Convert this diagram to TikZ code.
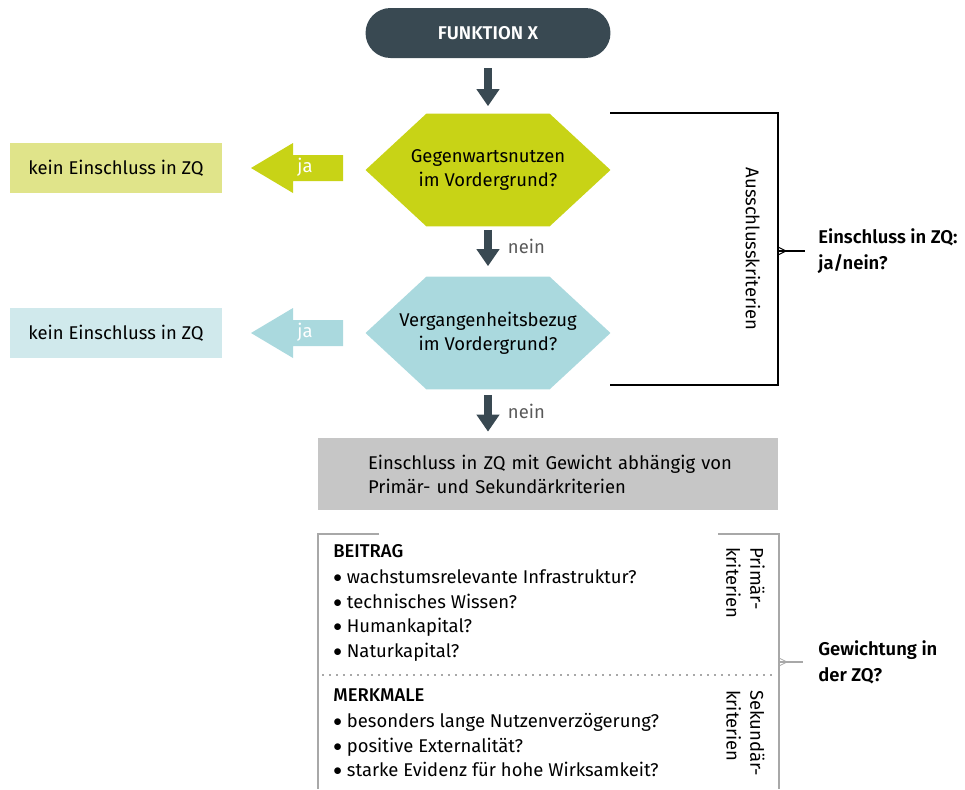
\documentclass[tikz,border=0pt]{standalone}
\usepackage{fontspec}
\setmainfont{Fira Sans}[BoldFont={Fira Sans SemiBold}]
\newfontfamily\medium{Fira Sans Medium}
\usepackage{tikz}
\usetikzlibrary{calc, arrows.meta}

\definecolor{slate}{HTML}{394952}
\definecolor{lime}{HTML}{C8D316}
\definecolor{limelight}{HTML}{E0E48A}
\definecolor{teal}{HTML}{AAD9DE}
\definecolor{teallight}{HTML}{D0E9EC}
\definecolor{boxgray}{HTML}{C6C6C6}
\definecolor{framegray}{HTML}{A8A8A8}

\newcommand{\pkt}{\raisebox{0.1ex}{\scalebox{0.9}{$\bullet$}}\ }

\begin{document}
\begin{tikzpicture}[x=0.02cm, y=-0.02cm, font=\fontsize{10.5}{13.6}\selectfont]

    \tikzstyle{hexa}=[minimum width=49mm, minimum height=22.6mm, inner sep=0pt, align=center,
        path picture={\fill[#1] (path picture bounding box.west)
            -- ([xshift=12.2mm]path picture bounding box.north west)
            -- ([xshift=-12.2mm]path picture bounding box.north east)
            -- (path picture bounding box.east)
            -- ([xshift=-12.2mm]path picture bounding box.south east)
            -- ([xshift=12.2mm]path picture bounding box.south west) -- cycle;}];
    \tikzstyle{nobox}=[minimum width=42.4mm, minimum height=10mm, inner sep=0pt];
    \tikzstyle{downarrow}=[line width=1.6mm, draw=slate, -{Triangle[width=4.4mm, length=3.4mm]}];
    \tikzstyle{nein}=[text=black!65, inner sep=0pt, xshift=3.2mm];
    \tikzstyle{side}=[rotate=-90, align=left, inner sep=0pt, anchor=north west];
    \tikzstyle{liste}=[anchor=north west, align=left, inner sep=0pt, font=\fontsize{10.5}{14}\selectfont];

    \useasboundingbox (0,0) rectangle (965,789);

    \node[fill=slate, rounded corners=5mm, minimum width=49mm, minimum height=10mm, text=white, font=\fontsize{10.5}{13.6}\selectfont\bfseries] (fx) at (488,33) {FUNKTION X};

    \node[hexa=lime] (h1) at (488,170) {Gegenwartsnutzen\\im Vordergrund?};
    \node[hexa=teal] (h2) at (488,333) {Vergangenheitsbezug\\im Vordergrund?};

    \node[nobox, fill=limelight] (k1) at (116,168) {kein Einschluss in ZQ};
    \node[nobox, fill=teallight] (k2) at (116,333) {kein Einschluss in ZQ};

    \node[fill=boxgray, minimum width=92mm, minimum height=14.4mm, text width=72mm, inner xsep=10mm, align=left] (ez) at (548,474) {\mbox{Einschluss in ZQ mit Gewicht abhängig von}\\Primär- und Sekundärkriterien};

    % ja-pfeile
    \fill[lime] (343,155) -- (293,155) -- (293,143) -- (251,168) -- (293,193) -- (293,181) -- (343,181) -- cycle;
    \node[text=white] (ja1) at (305,167) {ja};
    \fill[teal] (343,320) -- (293,320) -- (293,308) -- (251,333) -- (293,358) -- (293,346) -- (343,346) -- cycle;
    \node[text=white] (ja2) at (305,332) {ja};

    \draw (fx) edge[downarrow, shorten <=2mm, shorten >=1.4mm] (h1);
    \draw (h1) edge[downarrow, shorten <=0.6mm, shorten >=2mm] node[right, nein, pos=0.4] {nein} (h2);
    \draw (h2) edge[downarrow, shorten <=1mm, shorten >=1.2mm] node[right, nein, pos=0.45] {nein} (h2.south |- ez.north);

    % klammer ausschluss
    \coordinate (a1) at (610,113);
    \coordinate (a2) at (610,385);
    \coordinate (ap) at (778,251);
    \coordinate (aq) at (805,251);
    \draw[line width=0.5mm] (a1) -| (ap) |- (a2);
    \draw[line width=0.5mm] (ap) -- (aq);
    \draw[line width=0.2mm] (778,247) -- (786,251) -- (778,255);
    \node[rotate=-90, inner sep=0pt] (ak) at (753,249) {Ausschlusskriterien};
    \node[anchor=west, align=left, inner sep=0pt, font=\fontsize{10.5}{14.7}\selectfont\bfseries] (ja) at (818,251) {Einschluss in ZQ:\\ja/nein?};

    % rahmen kriterien
    \coordinate (r1) at (318,789);
    \coordinate (r2) at (779,789);
    \coordinate (rp) at (779,662);
    \coordinate (rq) at (803,662);
    \draw[framegray, line width=0.4mm] (379,534) -- (318,534) -- (r1);
    \draw[framegray, line width=0.4mm] (718,534) -- (779,534) -- (r2);
    \draw[framegray, line width=0.4mm] (rp) -- (rq);
    \draw[framegray, line width=0.15mm] (779,658) -- (787,662) -- (779,666);
    \draw[framegray, line width=0.3mm, dash pattern=on 0.4mm off 1mm] (322,675) -- (775,675);

    \node[liste] (bt) at (333,544) {{\medium BEITRAG}\\[1pt]
        \pkt wachstumsrelevante Infrastruktur?\\
        \pkt technisches Wissen?\\
        \pkt Humankapital?\\
        \pkt Naturkapital?};
    \node[liste] (mm) at (333,688) {{\medium MERKMALE}\\[1pt]
        \pkt besonders lange Nutzenverzögerung?\\
        \pkt positive Externalität?\\
        \pkt starke Evidenz für hohe Wirksamkeit?};

    \node[side] (pk) at (765,547) {Primär-\\kriterien};
    \node[side] (sk) at (765,690) {Sekundär-\\kriterien};
    \node[anchor=west, align=left, inner sep=0pt, font=\fontsize{10.5}{14.7}\selectfont\bfseries] (gw) at (818,662) {Gewichtung in\\der ZQ?};

\end{tikzpicture}
\end{document}
